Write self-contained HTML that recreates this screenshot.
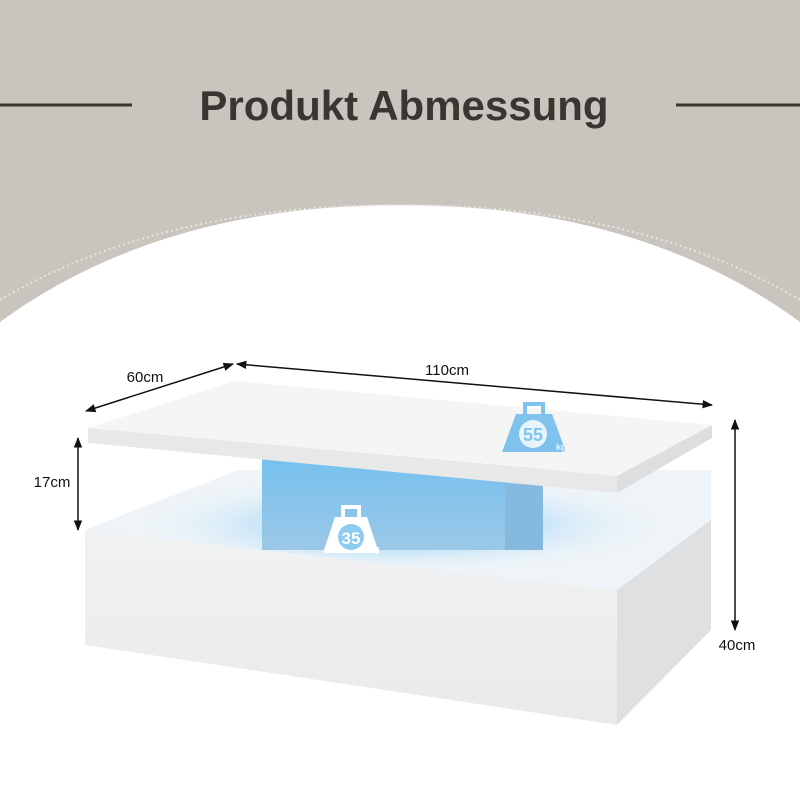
<!DOCTYPE html>
<html><head><meta charset="utf-8"><style>
html,body{margin:0;padding:0;width:800px;height:800px;overflow:hidden;background:#fff}
</style></head><body>
<svg width="800" height="800" viewBox="0 0 800 800" xmlns="http://www.w3.org/2000/svg">
<defs>
<radialGradient id="glow" cx="0.5" cy="0.5" r="0.5">
<stop offset="0" stop-color="#6cc0f2" stop-opacity="0.75"/>
<stop offset="0.55" stop-color="#a6d9f7" stop-opacity="0.45"/>
<stop offset="1" stop-color="#eef6fb" stop-opacity="0"/>
</radialGradient>
<linearGradient id="front" x1="0" y1="0" x2="0" y2="1">
<stop offset="0" stop-color="#f1f2f3"/><stop offset="1" stop-color="#e9eaeb"/>
</linearGradient>
<linearGradient id="pil" x1="0" y1="0" x2="0" y2="1">
<stop offset="0" stop-color="#74c0f0"/><stop offset="1" stop-color="#9cc8e6"/>
</linearGradient>
<marker id="ar" viewBox="0 0 10 10" refX="9" refY="5" markerWidth="7" markerHeight="7" orient="auto-start-reverse">
<path d="M0,1 L10,5 L0,9 z" fill="#111"/>
</marker>
</defs>
<rect width="800" height="800" fill="#fff"/>
<path d="M0,0 H800 V322 Q640,205 400,205 Q160,205 0,322 Z" fill="#c9c4be"/>
<path d="M0,300 Q160,205 400,205 Q640,205 800,300" fill="none" stroke="#e6e3df" stroke-width="2" stroke-dasharray="2 3"/>
<line x1="0" y1="105" x2="132" y2="105" stroke="#3a3530" stroke-width="3"/>
<line x1="676" y1="105" x2="800" y2="105" stroke="#3a3530" stroke-width="3"/>
<text x="404" y="120" text-anchor="middle" font-family="Liberation Sans, sans-serif" font-weight="bold" font-size="42" fill="#3a3530">Produkt Abmessung</text>

<!-- bottom box -->
<polygon points="85,530 238,470 711,470 711,520 617,590" fill="#eef4f8"/>
<ellipse cx="400" cy="525" rx="270" ry="50" fill="url(#glow)"/>
<polygon points="85,530 617,590 617,725 85,645" fill="url(#front)"/>
<polygon points="617,590 711,520 711,630 617,725" fill="#dfe0e1"/>
<!-- pillar -->
<rect x="262" y="455" width="281" height="95" fill="url(#pil)"/>
<rect x="505" y="455" width="38" height="95" fill="#86b9de"/>
<!-- top slab -->
<polygon points="88,428 235,381 712,425 617,476" fill="#f5f5f5"/>
<polygon points="88,428 617,476 617,493 88,443" fill="#e8e8e8"/>
<polygon points="617,476 712,425 712,438 617,493" fill="#dedede"/>

<!-- 55kg -->
<g fill="#7fc2ee">
<path d="M523,402 h22 v12 h-4 v-8 h-14 v8 h-4z"/>
<path d="M516,414 h36 l14,38 h-64 z"/>
</g>
<circle cx="533" cy="434" r="14" fill="#e8f4fb"/>
<text x="533" y="441" text-anchor="middle" font-family="Liberation Sans, sans-serif" font-weight="bold" font-size="18" fill="#7fc2ee">55</text>
<text x="556" y="450" font-family="Liberation Sans, sans-serif" font-weight="bold" font-size="9" fill="#e8f4fb">kg</text>
<!-- 35kg -->
<g fill="#fff">
<path d="M341,505 h20 v12 h-4 v-8 h-12 v8 h-4z"/>
<path d="M335,517 h32 l12,36 h-56 z"/>
</g>
<circle cx="351" cy="537" r="13" fill="#8fcbf0"/>
<text x="351" y="544" text-anchor="middle" font-family="Liberation Sans, sans-serif" font-weight="bold" font-size="17" fill="#fff">35</text>
<text x="369" y="552" font-family="Liberation Sans, sans-serif" font-weight="bold" font-size="9" fill="#fff">kg</text>

<!-- dimensions -->
<g stroke="#111" stroke-width="1.5">
<line x1="86" y1="411" x2="233" y2="364" marker-start="url(#ar)" marker-end="url(#ar)"/>
<line x1="237" y1="364" x2="712" y2="405" marker-start="url(#ar)" marker-end="url(#ar)"/>
<line x1="78" y1="438" x2="78" y2="530" marker-start="url(#ar)" marker-end="url(#ar)"/>
<line x1="735" y1="420" x2="735" y2="630" marker-start="url(#ar)" marker-end="url(#ar)"/>
</g>
<g font-family="Liberation Sans, sans-serif" font-size="15" fill="#111">
<text x="145" y="382" text-anchor="middle">60cm</text>
<text x="447" y="375" text-anchor="middle">110cm</text>
<text x="52" y="487" text-anchor="middle">17cm</text>
<text x="737" y="650" text-anchor="middle">40cm</text>
</g>
</svg>
</body></html>
